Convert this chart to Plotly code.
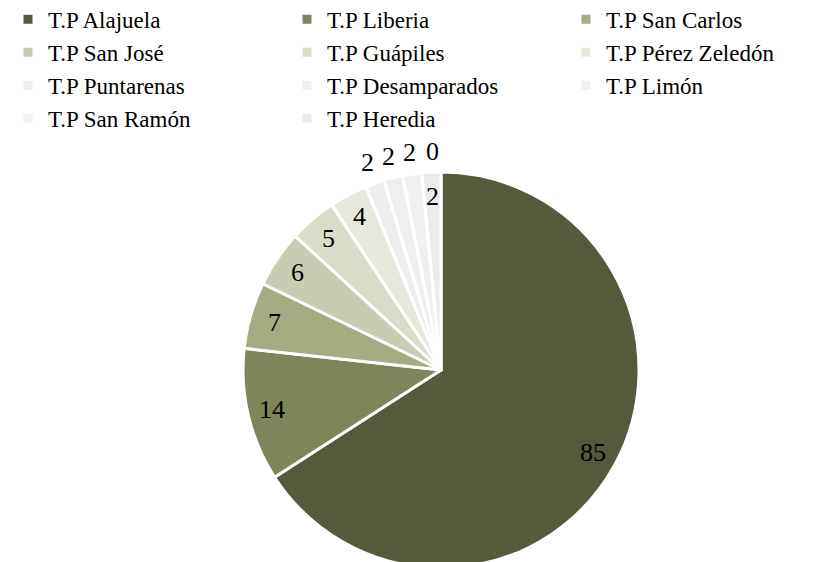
import math
import plotly.graph_objects as go

# Terminales y cantidades
terminales = ["T.P Alajuela", "T.P Liberia", "T.P San Carlos", "T.P San José",
              "T.P Guápiles", "T.P Pérez Zeledón", "T.P Puntarenas",
              "T.P Desamparados", "T.P Limón", "T.P San Ramón", "T.P Heredia"]
cantidades = [85, 14, 7, 6, 5, 4, 2, 2, 2, 0, 2]
colores = ["#555a3d", "#7f855a", "#a5ab82", "#c9ccb3", "#dadcc9", "#e7e8dc",
           "#eeeeee", "#efefef", "#f0f0f0", "#f2f2f2", "#ebebed"]
# etiqueta dentro o fuera de la porcion
fuera = [False] * 6 + [True] * 4 + [False]

W, H = 837, 562
dom_x = [0.2808, 0.7539]
dom_y = [0.0036, 0.7082]
fuente = "Liberation Serif"

fig = go.Figure()

fig.add_trace(go.Pie(
    labels=terminales,
    values=cantidades,
    sort=False,
    direction="clockwise",
    rotation=0,
    textinfo="none",
    marker=dict(colors=colores, line=dict(color="white", width=3)),
    domain=dict(x=dom_x, y=dom_y),
    showlegend=True,
))

# Etiquetas de datos ubicadas segun el angulo medio de cada porcion
cx = sum(dom_x) / 2
cy = sum(dom_y) / 2
radio = min((dom_x[1] - dom_x[0]) * W, (dom_y[1] - dom_y[0]) * H) / 2
total = sum(cantidades)
acum = 0
for v, f in zip(cantidades, fuera):
    ang = 2 * math.pi * (acum + v / 2) / total
    acum += v
    r = radio * (1.11 if f else 0.875)
    fig.add_annotation(
        x=cx + r * math.sin(ang) / W,
        y=cy + r * math.cos(ang) / H,
        xref="paper", yref="paper",
        xanchor="center", yanchor="middle",
        text=str(v),
        showarrow=False,
        xshift=13 if v == 0 else 0,
        font=dict(family=fuente, size=26, color="black"),
    )

fig.update_layout(
    width=W,
    height=H,
    margin=dict(l=0, r=0, t=0, b=0, autoexpand=False),
    paper_bgcolor="white",
    font=dict(family=fuente, color="black"),
    legend=dict(
        orientation="h",
        x=0, y=1.018, xanchor="left", yanchor="top",
        entrywidth=234, entrywidthmode="pixels",
        font=dict(family=fuente, size=23, color="black"),
        traceorder="normal",
    ),
)

fig.write_html("out.html")
